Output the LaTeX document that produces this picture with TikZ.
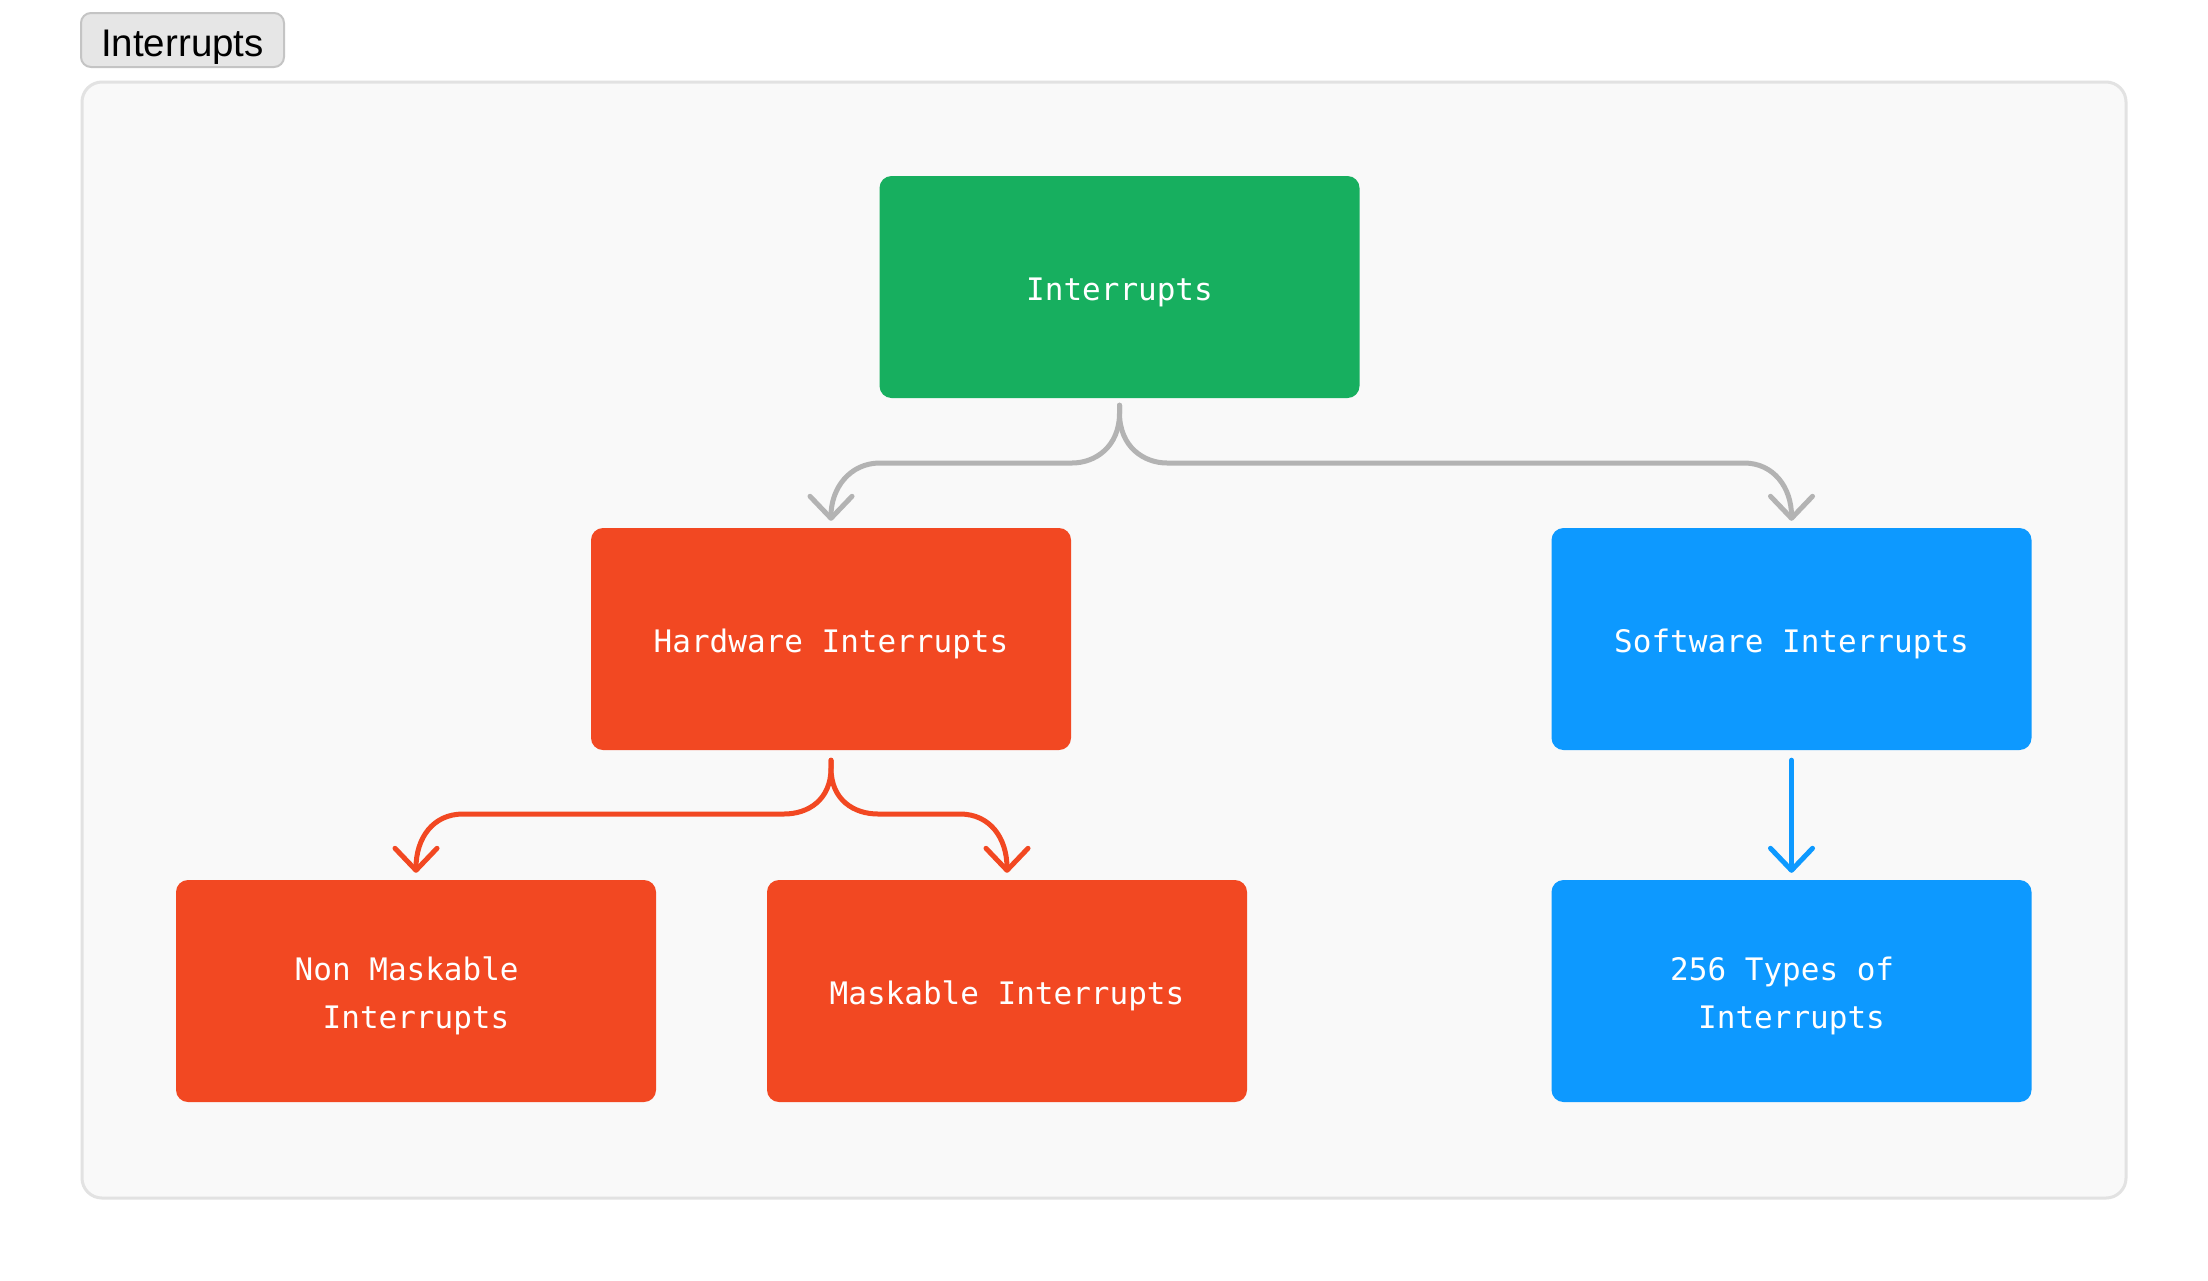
\documentclass[tikz,border=0pt]{standalone}
\usepackage{fontspec}
\setmainfont{Liberation Sans}
\newfontfamily\monofnt{DejaVu Sans Mono}
\usetikzlibrary{arrows.meta}
\definecolor{bggray}{HTML}{F9F9F9}
\definecolor{bgborder}{HTML}{E2E2E2}
\definecolor{tagfill}{HTML}{E6E6E6}
\definecolor{tagborder}{HTML}{C4C4C4}
\definecolor{cgreen}{HTML}{17AF5F}
\definecolor{cred}{HTML}{F24822}
\definecolor{cblue}{HTML}{0D99FF}
\definecolor{cgray}{HTML}{B3B3B3}
\newcommand{\boxtxt}[1]{\raisebox{-3.4pt}[\height][\depth]{\begin{tabular}{@{}c@{}}#1\end{tabular}}}
\tikzset{
  box/.style={rectangle, rounded corners=12pt, minimum width=480pt, minimum height=222pt,
    inner sep=0pt, text=white,
    font=\monofnt\fontsize{31}{48}\selectfont},
  conn/.style={line width=5pt, line cap=round, line join=round,
    -{Straight Barb[length=22pt,width=42pt,line cap=round,line join=round]}},
}
\begin{document}
\begin{tikzpicture}[x=1pt,y=-1pt]
\fill[white] (0,0) rectangle (2208,1280);
\path[use as bounding box] (0,0) rectangle (2208,1280);
% container
\draw[fill=bggray, draw=bgborder, line width=3pt, rounded corners=20pt] (82,82) rectangle (2126,1198);
% tag
\node[rectangle, rounded corners=10pt, minimum width=203pt, minimum height=54pt, inner sep=0pt,
  text height=40pt, text depth=8pt,
  fill=tagfill, draw=tagborder, line width=2pt, font=\fontsize{38.5}{44}\selectfont] (tag) at (182.5,40) {Interrupts};
% boxes
\node[box, fill=cgreen] (top) at (1119.5,287) {\boxtxt{Interrupts}};
\node[box, fill=cred] (hw) at (831,639) {\boxtxt{Hardware Interrupts}};
\node[box, fill=cblue] (sw) at (1791.5,639) {\boxtxt{Software Interrupts}};
\node[box, fill=cred] (nm) at (416,991) {\boxtxt{Non Maskable\hphantom{x}\\Interrupts}};
\node[box, fill=cred] (mk) at (1007,991) {\boxtxt{Maskable Interrupts}};
\node[box, fill=cblue] (ty) at (1791.5,991) {\boxtxt{256 Types of\hphantom{x}\\Interrupts}};
% gray connectors
\draw[conn, cgray] ([yshift=-7pt]top.south) -- (1119.5,413) .. controls (1119.5,447) and (1095,463) .. (1072,463)
  -- (880,463) .. controls (850,463) and (831,488) .. ([yshift=7pt]hw.north);
\draw[conn, cgray] ([yshift=-7pt]top.south) -- (1119.5,413) .. controls (1119.5,447) and (1144,463) .. (1167,463)
  -- (1744,463) .. controls (1774,463) and (1791.5,488) .. ([yshift=7pt]sw.north);
% red connectors
\draw[conn, cred] ([yshift=-10pt]hw.south) -- (831,768) .. controls (831,800) and (808,814) .. (784,814)
  -- (463,814) .. controls (433,814) and (416,838) .. ([yshift=7pt]nm.north);
\draw[conn, cred] ([yshift=-10pt]hw.south) -- (831,768) .. controls (831,800) and (854,814) .. (878,814)
  -- (960,814) .. controls (990,814) and (1007,838) .. ([yshift=7pt]mk.north);
% blue connector
\draw[conn, cblue] ([yshift=-10pt]sw.south) -- ([yshift=7pt]ty.north);
\end{tikzpicture}
\end{document}
